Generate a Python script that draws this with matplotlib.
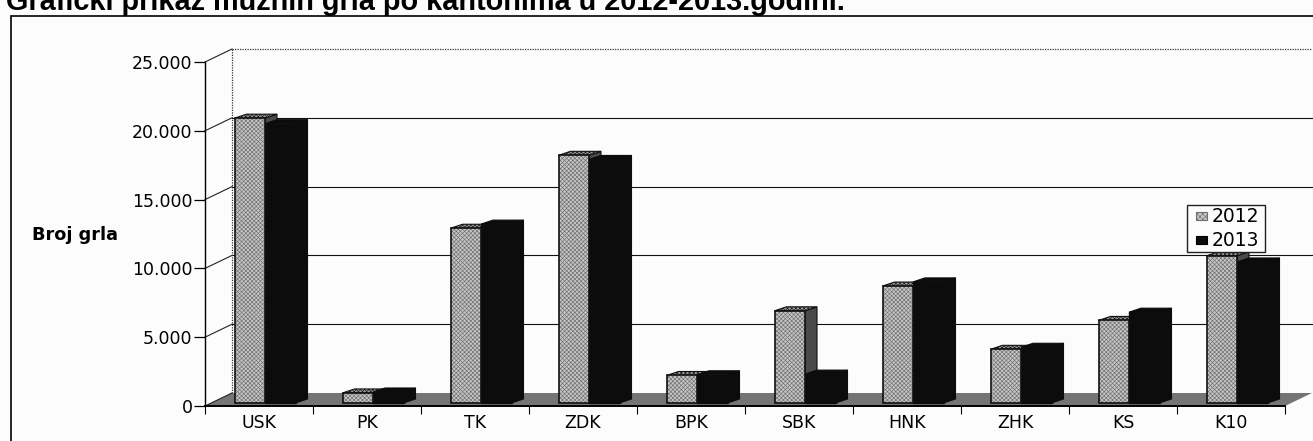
# Coding: utf-8
import matplotlib
matplotlib.use("Agg")
import matplotlib.pyplot as plt
from matplotlib.patches import Polygon, Rectangle

plt.rcParams['hatch.linewidth'] = 0.45

cantons = ['USK', 'PK', 'TK', 'ZDK', 'BPK', 'SBK', 'HNK', 'ZHK', 'KS', 'K10']
grla_2012 = [20700, 730, 12700, 18000, 2000, 6700, 8500, 3900, 6000, 10700]
grla_2013 = [20300, 800, 13000, 17700, 2050, 2100, 8800, 4050, 6600, 10250]
years = ['2012', '2013']
yticks = [0, 5000, 10000, 15000, 20000, 25000]
ytick_labels = ['0', '5.000', '10.000', '15.000', '20.000', '25.000']

W, H = 1313, 441
# front plane of the fake 3d box, in pixels
X0, X1, Y0, Y1 = 205, 1285, 406, 62
PX = 10 / (X1 - X0)        # data units for one pixel
PY = 25000 / (Y0 - Y1)
WALL_DX, WALL_DY = 27 * PX, 13 * PY
BAR_DX, BAR_DY = 12 * PX, 4 * PY
BASE = 3 * PY
SHIFT = 6 * PX
BAR_W = 30.5 * PX

GREY = '#c6c6c6'
DITHER = '#6e6e6e'
BLACK = '#0c0c0c'
BG = '#fcfcfc'


def poly(ax, pts, **kw):
    ax.add_patch(Polygon(pts, closed=True, clip_on=False, **kw))


def back_faces(ax, x, v, edge, side, top_color, zorder, hatch=None):
    top = BASE + v
    poly(ax, [(x + BAR_W, BASE), (x + BAR_W + BAR_DX, BASE + BAR_DY),
              (x + BAR_W + BAR_DX, top + BAR_DY), (x + BAR_W, top)],
         facecolor=side, edgecolor=edge, linewidth=0.8, zorder=zorder)
    poly(ax, [(x, top), (x + BAR_DX, top + BAR_DY),
              (x + BAR_W + BAR_DX, top + BAR_DY), (x + BAR_W, top)],
         facecolor=top_color, edgecolor=edge, linewidth=0.8, hatch=hatch,
         zorder=zorder + 0.01)


def main():
    fig = plt.figure(figsize=(W / 100, H / 100), dpi=100, facecolor=BG)
    ax = fig.add_axes([X0 / W, 1 - Y0 / H, (X1 - X0) / W, (Y0 - Y1) / H])
    ax.set_xlim(0, 10)
    ax.set_ylim(0, 25000)
    ax.patch.set_visible(False)
    for s in ax.spines.values():
        s.set_visible(False)

    # floor
    poly(ax, [(0, 0), (WALL_DX, WALL_DY), (10 + WALL_DX, WALL_DY), (10, 0)],
         facecolor='#757575', edgecolor='none', zorder=1)

    # back wall grid and left wall
    for t in yticks[1:]:
        if t == 25000:
            ax.plot([WALL_DX, 10 + WALL_DX], [t + WALL_DY, t + WALL_DY], color='#333333', lw=0.9,
                    dashes=(1, 1), zorder=1, clip_on=False)
        else:
            ax.plot([WALL_DX, 10 + WALL_DX], [t + WALL_DY, t + WALL_DY], color='#111111', lw=0.8,
                    zorder=1, clip_on=False)
    for t in yticks:
        ax.plot([0, WALL_DX], [t, t + WALL_DY], color='#222222', lw=0.8, zorder=1, clip_on=False)
    ax.plot([WALL_DX, WALL_DX], [WALL_DY, 25000 + WALL_DY], color='#333333', lw=0.9,
            dashes=(1, 1), zorder=1, clip_on=False)
    ax.plot([0, 0], [0, 25000], color='black', lw=1.0, zorder=1, clip_on=False)
    ax.plot([0, 10], [0, 0], color='black', lw=1.4, zorder=1, clip_on=False)

    ax.set_yticks(yticks)
    ax.set_yticklabels(ytick_labels, fontsize=12.5, family='DejaVu Sans')
    ax.tick_params(axis='y', length=8, width=0.9, pad=1)
    ax.set_xticks(range(11))
    ax.set_xticklabels([''] * 11)
    ax.tick_params(axis='x', length=6, width=0.8)
    for i, c in enumerate(cantons):
        ax.text(i + 0.5, -1210, c, ha='center', va='center', fontsize=12.5,
                family='DejaVu Sans', clip_on=False)

    # painter's order inside a group: 2012 side and top, then 2013, then 2012 front
    for i in range(len(cantons)):
        left = i + 0.5 + SHIFT - BAR_W
        back_faces(ax, left, grla_2012[i], '#111111', '#4a4a4a', '#9a9a9a', 3, hatch='xxxxxxxx')
        back_faces(ax, left + BAR_W, grla_2013[i], BLACK, BLACK, BLACK, 3.2)
        ax.bar(left + BAR_W, grla_2013[i], BAR_W, bottom=BASE, align='edge', color=BLACK,
               edgecolor=BLACK, linewidth=1.0, zorder=3.3, clip_on=False)
        ax.bar(left, grla_2012[i], BAR_W, bottom=BASE, align='edge', color=GREY,
               edgecolor=DITHER, linewidth=0, hatch='xxxxxxxx', zorder=3.5, clip_on=False)
        ax.bar(left, grla_2012[i], BAR_W, bottom=BASE, align='edge', fill=False,
               edgecolor='#111111', linewidth=1.2, zorder=3.6, clip_on=False)

    fig.text(32 / W, 1 - 235 / H, 'Broj grla', fontsize=12.7, fontweight='bold',
             family='DejaVu Sans', ha='left', va='center')
    # title is cut by the top edge in the scan as well
    fig.text(6 / W, 1 - 10 / H, 'Grafički prikaz mužnih grla po kantonima u 2012-2013.godini.',
             fontsize=20.8, fontweight='bold', family='Liberation Sans', ha='left',
             va='baseline')

    # outer frame, right and bottom run off the scan
    fig.add_artist(Rectangle((11 / W, -0.02), (W + 10) / W, 1 - 16 / H + 0.02,
                             transform=fig.transFigure, fill=False, edgecolor='black',
                             linewidth=1.2))

    # legend
    fig.add_artist(Rectangle((1187 / W, 1 - 252 / H), 78 / W, 47 / H, transform=fig.transFigure,
                             facecolor=BG, edgecolor='#222222', linewidth=1.0, zorder=2))
    for k, (yr, col) in enumerate(zip(years, [GREY, BLACK])):
        y = 216 + 24 * k
        fig.add_artist(Rectangle((1196 / W, 1 - (y + 4) / H), 11 / W, 8 / H,
                                 transform=fig.transFigure, facecolor=col,
                                 edgecolor=DITHER if k == 0 else 'black',
                                 linewidth=0.8, hatch='xxxxxx' if k == 0 else None, zorder=3))
        fig.text(1212 / W, 1 - y / H, yr, fontsize=13.5, family='DejaVu Sans', ha='left',
                 va='center', zorder=3)

    fig.savefig('out.png', dpi=100, facecolor=fig.get_facecolor())


if __name__ == '__main__':
    main()
